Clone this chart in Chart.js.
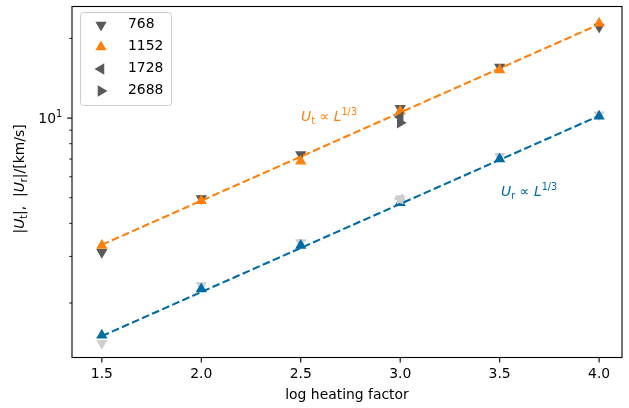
<!DOCTYPE html>
<html>
<head>
<meta charset="utf-8">
<script src="https://cdn.jsdelivr.net/npm/chart.js@4/dist/chart.umd.min.js"></script>
<style>
  html, body { margin: 0; padding: 0; background: #fff; }
  #wrap { width: 629px; height: 408px; position: relative; }
</style>
</head>
<body>
<div id="wrap"><canvas id="c" width="629" height="408"></canvas></div>
<script>
// ---- data ----
const xValues = [1.5, 2.0, 2.5, 3.0, 3.5, 4.0];
const xTicks = [1.5, 2.0, 2.5, 3.0, 3.5, 4.0];
const yMajorTicks = [10];
const yMinorTicks = [2, 3, 4, 5, 6, 7, 8, 9, 20];

// tangential velocity |U_t|
const ut768  = [3.11, 4.97, 7.28, 10.9, 15.6, 22.1];
const ut1152 = [3.30, 4.87, 6.87, 10.6, 15.2, 22.8];
// radial velocity |U_r|
const ur768  = [1.41, 2.33, 3.39, 4.94, 7.18, 10.3];
const ur1152 = [1.51, 2.26, 3.30, 4.79, 7.00, 10.15];

// higher resolutions, only at log heating factor 3.0
const xSingle = [3.0];
const ut1728 = [10.1];
const ur1728 = [4.95];
const ut2688 = [9.6];
const ur2688 = [4.9];

// L^(1/3) reference lines
const fitX = [1.5, 4.0];
const fitUt = [3.32, 22.6];
const fitUr = [1.5, 10.2];

const legendLabels = ['768', '1152', '1728', '2688'];

const ORANGE = '#FF800E', BLUE = '#006BA4', DARK = '#595959', LIGHT = '#CFCFCF';
const FONT = "'DejaVu Sans', 'Liberation Sans', sans-serif";
const BASE = 13.9, SMALL = 9.7;

const pts = (xs, ys) => xs.map((x, i) => ({x: x, y: ys[i]}));

function markers(label, xs, ys, color, rot, order){
  return {
    label: label, data: pts(xs, ys), order: order, showLine: false,
    pointStyle: 'triangle', rotation: rot, pointRadius: 5.3, pointHoverRadius: 5.3,
    backgroundColor: color, borderColor: color, pointBorderWidth: 1.2
  };
}
function fitLine(xs, ys, color){
  return {
    label: 'fit', data: pts(xs, ys), order: 0, showLine: true, pointRadius: 0,
    borderColor: color, borderWidth: 2.1, borderDash: [7.7, 3.3], fill: false
  };
}

const datasets = [
  fitLine(fitX, fitUt, ORANGE),
  fitLine(fitX, fitUr, BLUE),
  markers('2688', xSingle, ut2688, DARK, 90, 1),
  markers('2688', xSingle, ur2688, LIGHT, 90, 1),
  markers('1728', xSingle, ut1728, DARK, 270, 2),
  markers('1728', xSingle, ur1728, LIGHT, 270, 2),
  markers('1152', xValues, ut1152, ORANGE, 0, 3),
  markers('1152', xValues, ur1152, BLUE, 0, 3),
  markers('768', xValues, ut768, DARK, 180, 4),
  markers('768', xValues, ur768, LIGHT, 180, 4)
];

function richText(ctx, segs, x, y, align){
  let w = 0;
  segs.forEach(s => {
    ctx.font = (s.it ? 'italic ' : '') + s.sz + 'px ' + FONT;
    s.w = ctx.measureText(s.t).width;
    w += s.w;
  });
  let cx = align === 'center' ? x - w / 2 : (align === 'right' ? x - w : x);
  ctx.textAlign = 'left';
  ctx.textBaseline = 'alphabetic';
  segs.forEach(s => {
    ctx.font = (s.it ? 'italic ' : '') + s.sz + 'px ' + FONT;
    ctx.fillText(s.t, cx, y + (s.dy || 0));
    cx += s.w;
  });
}

function triangle(ctx, x, y, rot, color){
  if (Chart.helpers && Chart.helpers.drawPoint){
    ctx.fillStyle = color; ctx.strokeStyle = color; ctx.lineWidth = 1.2;
    Chart.helpers.drawPoint(ctx, {pointStyle: 'triangle', rotation: rot, radius: 5.3, borderWidth: 1.2}, x, y);
  }
}

const decor = {
  id: 'decor',
  afterDraw(chart){
    const ctx = chart.ctx, a = chart.chartArea;
    const xs = chart.scales.x, ys = chart.scales.y;
    ctx.save();
    // frame
    ctx.strokeStyle = '#000'; ctx.lineWidth = 1.1;
    ctx.strokeRect(a.left, a.top, a.right - a.left, a.bottom - a.top);
    // x ticks
    xTicks.forEach(v => {
      const px = xs.getPixelForValue(v);
      ctx.beginPath(); ctx.moveTo(px, a.bottom); ctx.lineTo(px, a.bottom + 4.9); ctx.stroke();
    });
    // y ticks
    yMajorTicks.forEach(v => {
      const py = ys.getPixelForValue(v);
      ctx.lineWidth = 1.1;
      ctx.beginPath(); ctx.moveTo(a.left - 4.9, py); ctx.lineTo(a.left, py); ctx.stroke();
      ctx.fillStyle = '#000';
      richText(ctx, [{t: '10', sz: BASE, dy: 5}, {t: '1', sz: SMALL, dy: -1}], a.left - 9.8, py, 'right');
    });
    ctx.lineWidth = 0.85;
    yMinorTicks.forEach(v => {
      const py = ys.getPixelForValue(v);
      ctx.beginPath(); ctx.moveTo(a.left - 2.8, py); ctx.lineTo(a.left, py); ctx.stroke();
    });
    // axis titles
    ctx.fillStyle = '#000';
    ctx.font = BASE + 'px ' + FONT;
    ctx.textAlign = 'center'; ctx.textBaseline = 'middle';
    ctx.fillText('log heating factor', (a.left + a.right) / 2, 395);
    ctx.save();
    ctx.translate(24, (a.top + a.bottom) / 2 - 3);
    ctx.rotate(-Math.PI / 2);
    richText(ctx, [
      {t: '|', sz: BASE}, {t: 'U', it: true, sz: BASE}, {t: 't', sz: SMALL, dy: 2.5}, {t: '|,  ', sz: BASE},
      {t: '|', sz: BASE}, {t: 'U', it: true, sz: BASE}, {t: 'r', sz: SMALL, dy: 2.5}, {t: '|/[km/s]', sz: BASE}
    ], 0, 0, 'center');
    ctx.restore();
    // power-law annotations
    ctx.fillStyle = ORANGE;
    richText(ctx, [
      {t: 'U', it: true, sz: BASE}, {t: 't', sz: SMALL, dy: 2.5}, {t: ' \u221D ', sz: BASE},
      {t: 'L', it: true, sz: BASE}, {t: '1/3', sz: SMALL, dy: -6}
    ], 301, 121, 'left');
    ctx.fillStyle = BLUE;
    richText(ctx, [
      {t: 'U', it: true, sz: BASE}, {t: 'r', sz: SMALL, dy: 2.5}, {t: ' \u221D ', sz: BASE},
      {t: 'L', it: true, sz: BASE}, {t: '1/3', sz: SMALL, dy: -6}
    ], 501, 196, 'left');
    // legend
    const lx = 80.5, ly = 12.5, lw = 91, lh = 93;
    ctx.fillStyle = 'rgba(255,255,255,0.8)';
    ctx.strokeStyle = '#cccccc'; ctx.lineWidth = 1;
    ctx.beginPath();
    if (ctx.roundRect) ctx.roundRect(lx, ly, lw, lh, 3); else ctx.rect(lx, ly, lw, lh);
    ctx.fill(); ctx.stroke();
    const legendColors = [DARK, ORANGE, DARK, DARK];
    const legendRot = [180, 0, 270, 90];
    const rowY = [24.5, 46.5, 68.5, 90.5];
    legendLabels.forEach((lab, i) => {
      triangle(ctx, 101, rowY[i] + 0.5, legendRot[i], legendColors[i]);
      ctx.fillStyle = '#000';
      ctx.font = BASE + 'px ' + FONT;
      ctx.textAlign = 'left'; ctx.textBaseline = 'middle';
      ctx.fillText(lab, 128, rowY[i]);
    });
    ctx.restore();
  }
};

new Chart(document.getElementById('c'), {
  type: 'scatter',
  data: {datasets: datasets},
  options: {
    responsive: false,
    animation: false,
    events: [],
    layout: {padding: {left: 0, top: 4.5, right: 7, bottom: 0}},
    plugins: {legend: {display: false}, tooltip: {enabled: false}},
    scales: {
      x: {
        type: 'linear', min: 1.35, max: 4.115,
        afterBuildTicks: s => { s.ticks = xTicks.map(v => ({value: v})); },
        afterFit: s => { s.height = 50.5; },
        grid: {display: false, drawTicks: false},
        border: {display: false},
        ticks: {
          color: '#000', font: {family: FONT, size: BASE}, padding: 9,
          maxRotation: 0, autoSkip: false,
          callback: v => Number(v).toFixed(1)
        }
      },
      y: {
        type: 'logarithmic', min: 1.245, max: 26.4,
        afterBuildTicks: s => { s.ticks = yMajorTicks.map(v => ({value: v})); },
        afterFit: s => { s.width = 72; },
        grid: {display: false, drawTicks: false},
        border: {display: false},
        ticks: {display: false}
      }
    }
  },
  plugins: [decor]
});
</script>
</body>
</html>
